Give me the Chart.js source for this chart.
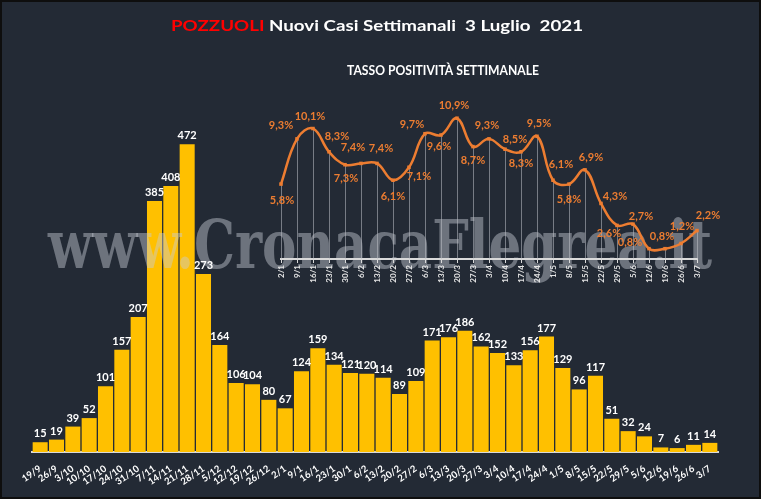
<!DOCTYPE html>
<html><head><meta charset="utf-8">
<script src="https://cdn.jsdelivr.net/npm/chart.js@4.4.1/dist/chart.umd.min.js"></script>
<style>
html,body{margin:0;padding:0;background:#232a35;}
#wrap{position:relative;width:761px;height:499px;overflow:hidden;}
#main{position:absolute;left:0;top:0;}
#inset{position:absolute;left:240px;top:40px;}
</style></head><body>
<div id="wrap"><canvas id="main" width="761" height="499"></canvas><canvas id="inset" width="521" height="270"></canvas></div>
<script>
// ---- DATA ----
const weeks = ['19/9','26/9','3/10','10/10','17/10','24/10','31/10','7/11','14/11','21/11','28/11','5/12','12/12','19/12','26/12','2/1','9/1','16/1','23/1','30/1','6/2','13/2','20/2','27/2','6/3','13/3','20/3','27/3','3/4','10/4','17/4','24/4','1/5','8/5','15/5','22/5','29/5','5/6','12/6','19/6','26/6','3/7'];
const newCases = [15,19,39,52,101,157,207,385,408,472,273,164,106,104,80,67,124,159,134,121,120,114,89,109,171,176,186,162,152,133,156,177,129,96,117,51,32,24,7,6,11,14];
const rateWeeks = ['2/1','9/1','16/1','23/1','30/1','6/2','13/2','20/2','27/2','6/3','13/3','20/3','27/3','3/4','10/4','17/4','24/4','1/5','8/5','15/5','22/5','29/5','5/6','12/6','19/6','26/6','3/7'];
const positivityRate = [5.8,9.3,10.1,8.3,7.3,7.4,7.4,6.1,7.1,9.7,9.6,10.9,8.7,9.3,8.5,8.3,9.5,6.1,5.8,6.9,4.3,2.6,2.7,0.8,0.8,1.2,2.2];
const titleCity = 'POZZUOLI';
const titleRest = ' Nuovi Casi Settimanali  3 Luglio  2021';
const insetTitle = 'TASSO POSITIVITÀ SETTIMANALE';
const watermark = 'www.CronacaFlegrea.it';

// ---- STYLE ----
const BG = '#232a35';
const BAR = '#ffc000';
const ORANGE = '#ed7d31';
// label placement (dx, dy) for the positivity labels relative to each point
const rateLabelOffsets = [[1,16],[-16,-13],[-3,-12],[8,-15],[1,14],[-8,-16],[4,-15],[0,16],[10,9],[-13,-9],[-2,11],[-3,-13],[0,14],[-2,-13],[10,-10],[0,12],[2,-13],[8,-16],[0,15],[6,-12],[14,-7],[-8,8],[8,-8],[-19,-6],[-3,-12],[1,-17],[11,-15]];

function drawFitted(ctx, parts, cx, y, targetWidth, font) {
  ctx.save();
  ctx.font = font;
  const total = parts.reduce((s,p)=>s+ctx.measureText(p.t).width,0);
  const sx = targetWidth/total;
  ctx.translate(cx - targetWidth/2, y);
  ctx.scale(sx,1);
  ctx.textBaseline='alphabetic'; ctx.textAlign='left';
  let x=0;
  for (const p of parts){ ctx.fillStyle=p.c; ctx.fillText(p.t,x,0); x+=ctx.measureText(p.t).width; }
  ctx.restore();
}

const mainPlugin = {
  id:'mainDecor',
  beforeDraw(chart){
    const c=chart.ctx; c.save(); c.fillStyle=BG; c.fillRect(0,0,chart.width,chart.height); c.restore();
  },
  afterDatasetsDraw(chart){
    const c=chart.ctx;
    // watermark
    c.save();
    c.font = "bold 68px 'DejaVu Serif'";
    const w = c.measureText(watermark).width;
    c.translate(48, 268);
    c.scale(664/w, 1);
    c.fillStyle = 'rgba(200,204,212,0.45)';
    c.textBaseline='alphabetic'; c.textAlign='left';
    c.fillText(watermark, 0, 0);
    c.restore();
    // bar labels
    const meta=chart.getDatasetMeta(0);
    c.save(); c.font="bold 11px Lato"; c.fillStyle='#ffffff'; c.textAlign='center'; c.textBaseline='bottom';
    meta.data.forEach((bar,i)=>{ c.fillText(String(newCases[i]), bar.x, bar.y-3); });
    c.restore();
  },
  afterDraw(chart){
    const c=chart.ctx;
    drawFitted(c, [{t:titleCity,c:'#ff0000'},{t:titleRest,c:'#ffffff'}], 377, 31, 412, "bold 16px Lato");
    c.save(); c.strokeStyle='#0e0e0e'; c.lineWidth=3; c.strokeRect(0.5,0.5,chart.width-1,chart.height-1); c.restore();
  }
};

new Chart(document.getElementById('main'), {
  type:'bar',
  data:{ labels:weeks, datasets:[{ data:newCases, backgroundColor:BAR, borderWidth:0, categoryPercentage:1, barPercentage:0.92 }]},
  options:{
    responsive:false, animation:false, devicePixelRatio:1,
    layout:{ padding:{ left:32, right:43, top:126, bottom:0 } },
    plugins:{ legend:{display:false}, tooltip:{enabled:false}, title:{display:false} },
    scales:{
      x:{
        grid:{display:false},
        border:{display:true, color:'#d9d9d9', width:2},
        ticks:{ color:'#ffffff', font:{family:'Lato', weight:'bold', size:9.5}, minRotation:35, maxRotation:35, autoSkip:false, padding:3 },
        afterFit(s){ s.height = 47; }
      },
      y:{ display:false, min:0, max:500 }
    }
  },
  plugins:[mainPlugin]
});

const insetPlugin = {
  id:'insetDecor',
  beforeDatasetsDraw(chart){
    const c=chart.ctx; const meta=chart.getDatasetMeta(0); const bottom=chart.chartArea.bottom;
    c.save(); c.strokeStyle='rgba(190,192,198,0.55)'; c.lineWidth=1;
    meta.data.forEach(p=>{ const x=Math.round(p.x)+0.5; c.beginPath(); c.moveTo(x,p.y); c.lineTo(x,bottom); c.stroke(); });
    c.restore();
  },
  afterDatasetsDraw(chart){
    const c=chart.ctx; const meta=chart.getDatasetMeta(0);
    c.save(); c.font="bold 11px Lato"; c.fillStyle=ORANGE; c.textAlign='center'; c.textBaseline='middle';
    meta.data.forEach((p,i)=>{
      const o=rateLabelOffsets[i];
      c.fillText(positivityRate[i].toFixed(1).replace('.',',')+'%', p.x+o[0], p.y+o[1]);
    });
    c.restore();
  },
  afterDraw(chart){
    drawFitted(chart.ctx, [{t:insetTitle,c:'#ffffff'}], 203, 35, 192, "bold 13px Lato");
  }
};

new Chart(document.getElementById('inset'), {
  type:'line',
  data:{ labels:rateWeeks, datasets:[{ data:positivityRate, borderColor:ORANGE, backgroundColor:ORANGE, borderWidth:2.5, tension:0.4,
    pointStyle:'rect', pointRadius:2.5, pointBackgroundColor:ORANGE, pointBorderWidth:0, fill:false, clip:false }]},
  options:{
    responsive:false, animation:false, devicePixelRatio:1,
    layout:{ padding:{ left:41, right:64, top:64, bottom:0 } },
    plugins:{ legend:{display:false}, tooltip:{enabled:false} },
    scales:{
      x:{
        offset:false,
        grid:{display:true, drawOnChartArea:false, drawTicks:true, tickLength:4, color:'#d9d9d9'},
        border:{display:true, color:'#d9d9d9', width:2},
        ticks:{ color:'#e6e6e6', font:{family:'Lato', weight:'bold', size:8}, minRotation:90, maxRotation:90, autoSkip:false, padding:2 },
        afterFit(s){ s.height = 51; }
      },
      y:{ display:false, min:0, max:12 }
    }
  },
  plugins:[insetPlugin]
});
</script>
</body></html>
